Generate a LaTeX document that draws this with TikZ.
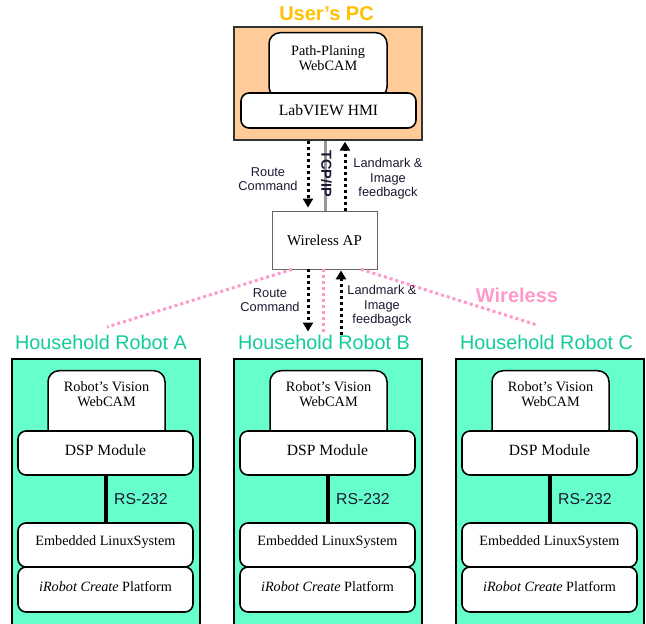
\documentclass[tikz,border=0pt]{standalone}
\usepackage{fontspec}
\setmainfont{Liberation Serif}
\setsansfont{Liberation Sans}
\usetikzlibrary{arrows.meta}
\definecolor{pcfill}{HTML}{FFCC99}
\definecolor{robfill}{HTML}{66FFCC}
\definecolor{tealtxt}{HTML}{11CC99}
\definecolor{goldtxt}{HTML}{FFC000}
\definecolor{pinkw}{HTML}{FF99CC}
\definecolor{annotc}{HTML}{1A1A33}
\begin{document}
\begin{tikzpicture}[x=1pt,y=1pt,
  robotbox/.style={draw=black, fill=robfill, line width=1.6pt, minimum width=188pt, minimum height=300pt, inner sep=0pt},
  pcbox/.style={draw=black!80, fill=pcfill, line width=1.3pt, minimum width=188pt, minimum height=113pt, inner sep=0pt},
  visbox/.style={draw=black, fill=white, line width=1.5pt, rounded corners=11pt, minimum width=117pt, minimum height=70pt, inner sep=0pt},
  modbox/.style={draw=black, fill=white, line width=1.6pt, rounded corners=8pt, minimum width=175pt, inner sep=0pt},
  boxtext/.style={align=center, inner sep=0pt, font=\fontsize{14.3}{15.5}\selectfont},
  robtitle/.style={inner sep=0pt, text=tealtxt, font=\sffamily\fontsize{19.8}{22}\selectfont},
  annot/.style={align=center, inner sep=0pt, text=annotc, font=\sffamily\fontsize{12.8}{14.5}\selectfont},
  blkdot/.style={draw=black, line width=3pt, dash pattern=on 3pt off 3pt},
  pinkdot/.style={draw=pinkw, line width=3pt, dash pattern=on 3pt off 3pt},
  tip/.style={-{Triangle[width=10pt,length=9pt]}}
]
\useasboundingbox (0,0) rectangle (646,624);

% ---------------- User's PC ----------------
\node[inner sep=0pt, text=goldtxt, font=\sffamily\bfseries\fontsize{20}{22}\selectfont] (pctitle) at (326.5,610.5) {User's PC};
\node[pcbox] (pc) at (328,540.5) {};
\node[visbox, anchor=north, minimum width=118pt, minimum height=65pt] (path) at (328,592) {};
\node[boxtext] (patht) at (328,566) {Path-Planing\\WebCAM};
\node[modbox, minimum height=35pt, font=\fontsize{15.6}{17}\selectfont] (lab) at (328.5,513.5) {LabVIEW HMI};

% ---------------- Wireless AP ----------------
\node[draw=black!60, line width=0.8pt, fill=white, minimum width=105pt, minimum height=58pt, inner sep=0pt, font=\fontsize{15}{17}\selectfont] (ap) at (324.5,384) {Wireless AP};

% upper links
\draw[line width=3pt, draw=black!40] ([xshift=-3pt]pc.south) -- ([xshift=0.5pt]ap.north);
\node[rotate=-90, inner sep=0pt, text=annotc, font=\sffamily\bfseries\fontsize{14.5}{16}\selectfont] (tcp) at (326.5,450) {TCP/IP};
\draw[blkdot, tip, shorten >=3pt] ([xshift=-20pt]pc.south) -- ([xshift=-16.5pt]ap.north);
\draw[blkdot, tip, shorten >=1pt] ([xshift=20.5pt]ap.north) -- ([xshift=17pt]pc.south);
\node[annot] (rc1) at (268,445) {Route\\Command};
\node[annot] (lm1) at (388,445) {Landmark \&\\Image\\feedbagck};

% ---------------- Robots ----------------
\foreach \L/\n/\tx in {12/A/101, 234/B/324, 456/C/546.5}{
  \node[robotbox, anchor=north] (rob\n) at (\L+94,266) {};
  \node[robtitle] (title\n) at (\tx,282) {Household Robot \n};
  \node[visbox, anchor=north] (vis\n) at (\L+94.5,254) {};
  \node[boxtext] (vist\n) at (\L+94.5,230) {Robot's Vision\\WebCAM};
  \node[modbox, minimum height=44pt, text depth=5pt, font=\fontsize{15.6}{17}\selectfont] (dsp\n) at (\L+93.5,171) {DSP Module};
  \node[modbox, minimum height=44pt, text depth=8pt, font=\fontsize{14.2}{16}\selectfont] (emb\n) at (\L+93.5,79) {Embedded LinuxSystem};
  \node[modbox, minimum height=45pt, text depth=5pt, font=\fontsize{14.2}{16}\selectfont] (irb\n) at (\L+93.5,34.5) {\textit{iRobot Create} Platform};
  \draw[line width=4pt] ([xshift=0.5pt]dsp\n.south) -- ([xshift=0.5pt]emb\n.north);
  \node[inner sep=0pt, text=annotc, font=\sffamily\fontsize{15.8}{18}\selectfont] (rs\n) at (\L+129,125) {RS-232};
}

% lower links
\coordinate (wa) at (107,297);
\coordinate (wc) at (537,299);
\draw[pinkdot] ([xshift=-32.5pt]ap.south) -- (wa);
\draw[pinkdot] ([xshift=36.5pt]ap.south) -- (wc);
\draw[pinkdot] ([xshift=-1.5pt]ap.south) -- ([xshift=-1pt]titleB.north);
\draw[blkdot, tip, shorten >=3pt] ([xshift=-16.5pt]ap.south) -- ([xshift=-16pt]titleB.north);
\draw[blkdot, tip, shorten >=1pt] ([xshift=17pt]titleB.north) -- ([xshift=16.5pt]ap.south);
\node[annot] (rc2) at (270,324) {Route\\Command};
\node[annot] (lm2) at (382,318) {Landmark \&\\Image\\feedbagck};
\node[inner sep=0pt, text=pinkw, font=\sffamily\bfseries\fontsize{20}{22}\selectfont] (wl) at (517,329) {Wireless};
\end{tikzpicture}
\end{document}
